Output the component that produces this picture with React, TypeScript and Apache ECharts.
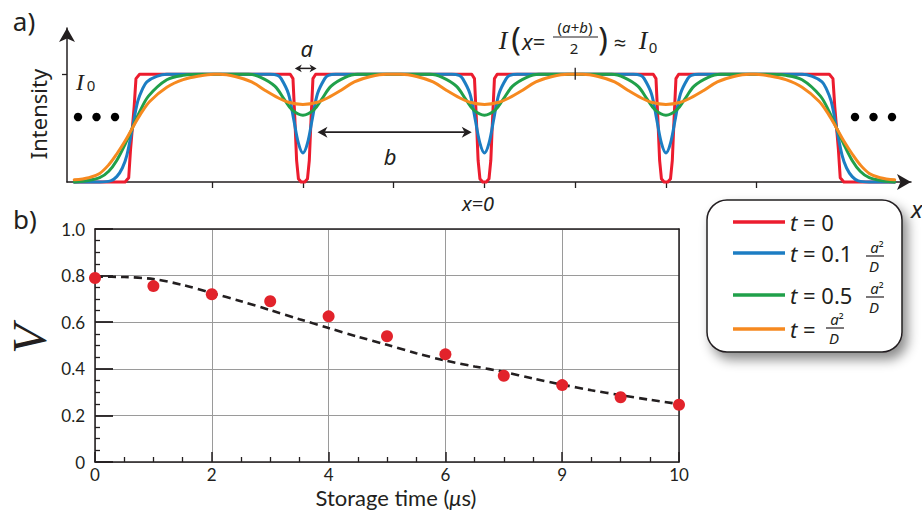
import React, { useEffect, useRef } from "react";
import * as echarts from "echarts";

// ---------- panel a : intensity profiles (x in units where a+b = 10) ----------
const profileT0: number[][] = [
  [-22.6, 0], [-19.8, 0], [-19.6, 0.04], [-19.5, 0.3], [-19.4, 0.5], [-19.3, 0.7], [-19.2, 0.96], [-19.0, 1],
  [-10.7, 1], [-10.55, 0.96], [-10.45, 0.6], [-10.35, 0.2], [-10.25, 0.03], [-10.1, 0], [-9.9, 0], [-9.75, 0.03], [-9.65, 0.2], [-9.55, 0.6], [-9.45, 0.96], [-9.3, 1],
  [-0.7, 1], [-0.55, 0.96], [-0.45, 0.6], [-0.35, 0.2], [-0.25, 0.03], [-0.1, 0], [0.1, 0], [0.25, 0.03], [0.35, 0.2], [0.45, 0.6], [0.55, 0.96], [0.7, 1],
  [9.3, 1], [9.45, 0.96], [9.55, 0.6], [9.65, 0.2], [9.75, 0.03], [9.9, 0], [10.1, 0], [10.25, 0.03], [10.35, 0.2], [10.45, 0.6], [10.55, 0.96], [10.7, 1],
  [19.0, 1], [19.2, 0.96], [19.3, 0.7], [19.4, 0.5], [19.5, 0.3], [19.6, 0.04], [19.8, 0], [22.6, 0],
];
const profileT01: number[][] = [
  [-22.6, 0], [-21.2, 0], [-20.6, 0.01], [-20.26, 0.05], [-19.95, 0.13], [-19.7, 0.25], [-19.4, 0.5], [-19.1, 0.75], [-18.85, 0.86], [-18.6, 0.93], [-18.06, 0.98], [-17.5, 1],
  [-11.8, 1], [-11.4, 0.99], [-11.2, 0.96], [-10.8, 0.82], [-10.53, 0.6], [-10.25, 0.36], [-10, 0.27], [-9.75, 0.36], [-9.47, 0.6], [-9.2, 0.82], [-8.8, 0.96], [-8.6, 0.99], [-8.2, 1],
  [-1.8, 1], [-1.4, 0.99], [-1.2, 0.96], [-0.8, 0.82], [-0.53, 0.6], [-0.25, 0.36], [0, 0.27], [0.25, 0.36], [0.53, 0.6], [0.8, 0.82], [1.2, 0.96], [1.4, 0.99], [1.8, 1],
  [8.2, 1], [8.6, 0.99], [8.8, 0.96], [9.2, 0.82], [9.47, 0.6], [9.75, 0.36], [10, 0.27], [10.25, 0.36], [10.53, 0.6], [10.8, 0.82], [11.2, 0.96], [11.4, 0.99], [11.8, 1],
  [17.5, 1], [18.06, 0.98], [18.6, 0.93], [18.85, 0.86], [19.1, 0.75], [19.4, 0.5], [19.7, 0.25], [19.95, 0.13], [20.26, 0.05], [20.6, 0.01], [21.2, 0], [22.6, 0],
];
const profileT05: number[][] = [
  [-22.6, 0], [-22, 0.01], [-21.2, 0.04], [-20.7, 0.1], [-20.26, 0.2], [-19.8, 0.35], [-19.4, 0.5], [-19, 0.65], [-18.5, 0.8], [-17.5, 0.95], [-16.6, 0.99], [-15.5, 1],
  [-13, 1], [-12.3, 0.97], [-11.55, 0.89], [-11, 0.76], [-10.6, 0.67], [-10, 0.62], [-9.4, 0.67], [-9, 0.76], [-8.45, 0.89], [-7.7, 0.97], [-7, 1],
  [-3, 1], [-2.3, 0.97], [-1.55, 0.89], [-1, 0.76], [-0.6, 0.67], [0, 0.62], [0.6, 0.67], [1, 0.76], [1.55, 0.89], [2.3, 0.97], [3, 1],
  [7, 1], [7.7, 0.97], [8.45, 0.89], [9, 0.76], [9.4, 0.67], [10, 0.62], [10.6, 0.67], [11, 0.76], [11.55, 0.89], [12.3, 0.97], [13, 1],
  [15.5, 1], [16.6, 0.99], [17.5, 0.95], [18.5, 0.8], [19, 0.65], [19.4, 0.5], [19.8, 0.35], [20.26, 0.2], [20.7, 0.1], [21.2, 0.04], [22, 0.01], [22.6, 0],
];
const profileT1: number[][] = [
  [-22.6, 0.02], [-21.8, 0.04], [-21.2, 0.08], [-20.7, 0.16], [-20.26, 0.26], [-19.8, 0.38], [-19.4, 0.5], [-18.95, 0.63], [-18.43, 0.75], [-17.5, 0.88], [-16.6, 0.95], [-15.7, 0.985], [-14.9, 1],
  [-14.6, 1], [-13.74, 0.98], [-12.83, 0.93], [-12.08, 0.85], [-11.35, 0.78], [-10.8, 0.74], [-10, 0.72], [-9.2, 0.74], [-8.65, 0.78], [-7.92, 0.85], [-7.17, 0.93], [-6.26, 0.98], [-5.4, 1],
  [-4.6, 1], [-3.74, 0.98], [-2.83, 0.93], [-2.08, 0.85], [-1.35, 0.78], [-0.8, 0.74], [0, 0.72], [0.8, 0.74], [1.35, 0.78], [2.08, 0.85], [2.83, 0.93], [3.74, 0.98], [4.6, 1],
  [5.4, 1], [6.26, 0.98], [7.17, 0.93], [7.92, 0.85], [8.65, 0.78], [9.2, 0.74], [10, 0.72], [10.8, 0.74], [11.35, 0.78], [12.08, 0.85], [12.83, 0.93], [13.74, 0.98], [14.6, 1],
  [14.9, 1], [15.7, 0.985], [16.6, 0.95], [17.5, 0.88], [18.43, 0.75], [18.95, 0.63], [19.4, 0.5], [19.8, 0.38], [20.26, 0.26], [20.7, 0.16], [21.2, 0.08], [21.8, 0.04], [22.6, 0.02],
];
const profileTickValues = [-15, -10, -5, 0, 5, 10, 15];
const intensityTickValues = [1];
const profileNames = ["t = 0", "t = 0.1 a²/D", "t = 0.5 a²/D", "t = a²/D"];
const profileColors = ["#ec1c2e", "#1c7dc3", "#20a04a", "#f6891f"];

// ---------- panel b : visibility vs storage time ----------
const storageTime = [0, 1, 2, 3, 4, 5, 6, 7, 8, 9, 10];
const visibility = [0.79, 0.755, 0.72, 0.69, 0.625, 0.54, 0.462, 0.37, 0.33, 0.278, 0.246];
const fitTime = [0, 0.5, 1, 1.5, 2, 2.5, 3, 3.5, 4, 4.5, 5, 5.5, 6, 6.5, 7, 7.5, 8, 8.5, 9, 9.5, 10];
const fitVisibility = [0.795, 0.794, 0.785, 0.76, 0.725, 0.69, 0.652, 0.613, 0.575, 0.538, 0.503, 0.467, 0.435, 0.41, 0.387, 0.358, 0.332, 0.308, 0.287, 0.267, 0.249];
const timeTickLabels = ["0", "2", "4", "6", "9", "10"];
const visibilityTickLabels = ["0", "0.2", "0.4", "0.6", "0.8", "1.0"];

const INK = "#231f20";
const SANS = "'Noto Sans', 'Open Sans', sans-serif";
const AXIS_FONT = "Lato, 'Noto Sans', sans-serif";
const SERIF = "'Liberation Serif', 'DejaVu Serif', serif";

function tok(size: number, italic = false, family = SANS) {
  return { fontSize: size, fontFamily: family, fontStyle: italic ? "italic" : "normal", fontWeight: "normal", fill: INK, color: INK };
}

function txt(t: string, x: number, y: number, size: number, o: any = {}) {
  const align = o.align || "center";
  const valign = o.valign || "middle";
  const style: any = {
    text: t, x: 0, y: 0, fontSize: size, fontFamily: o.family || SANS,
    fontStyle: o.italic ? "italic" : "normal", fontWeight: "normal",
    fill: o.color || INK, align, verticalAlign: valign, textAlign: align, textVerticalAlign: valign,
  };
  if (o.rich) style.rich = o.rich;
  const el = { type: "text", silent: true, z: 100, style };
  if (o.rotation) {
    return { type: "group", x, y, rotation: o.rotation, silent: true, children: [el] };
  }
  return { ...el, x, y };
}

function hline(x1: number, y1: number, x2: number, y2: number, w: number, color = INK) {
  return { type: "line", silent: true, z: 100, shape: { x1, y1, x2, y2 }, style: { stroke: color, lineWidth: w, lineCap: "butt" } };
}

function doubleArrow(x1: number, x2: number, y: number, head: number, w: number) {
  const hw = head * 0.55;
  return [
    hline(x1 + head * 0.7, y, x2 - head * 0.7, y, w),
    { type: "polygon", silent: true, z: 100, shape: { points: [[x1, y], [x1 + head, y - hw], [x1 + head * 0.72, y], [x1 + head, y + hw]] }, style: { fill: INK } },
    { type: "polygon", silent: true, z: 100, shape: { points: [[x2, y], [x2 - head, y - hw], [x2 - head * 0.72, y], [x2 - head, y + hw]] }, style: { fill: INK } },
  ];
}

// a^2 / D fraction
function aSqOverD(cx: number, barY: number) {
  return [
    txt("{i|a}²", cx + 2, barY - 9, 14, { rich: { i: tok(15, true) } }),
    hline(cx - 9, barY, cx + 9, barY, 1.2),
    txt("D", cx - 1, barY + 9.5, 15, { italic: true }),
  ];
}

function buildOption() {
  const axisInk = { color: INK, width: 1.5 };
  const profileSeries = [profileT0, profileT01, profileT05, profileT1].map((d, i) => ({
    type: "line", name: profileNames[i], xAxisIndex: 0, yAxisIndex: 0,
    data: d, showSymbol: false, smooth: i === 0 ? false : 0.35, clip: false,
    lineStyle: { color: profileColors[i], width: 3, join: "round", cap: "round" },
    itemStyle: { color: profileColors[i] }, z: 3 + i,
  }));
  return {
    animation: false,
    backgroundColor: "#ffffff",
    grid: [
      { left: 67, top: 28, width: 844, height: 154 },
      { left: 95, top: 229, width: 584, height: 233 },
    ],
    xAxis: [
      {
        gridIndex: 0, type: "value", min: -23, max: 23.5,
        axisLine: { show: true, onZero: false, symbol: ["none", "arrow"], symbolSize: [12, 14], lineStyle: axisInk },
        axisTick: { show: true, customValues: profileTickValues, length: 6, lineStyle: { color: INK, width: 1.3 } },
        axisLabel: { show: false }, splitLine: { show: false },
      },
      {
        gridIndex: 1, type: "value", min: 0, max: 10, interval: 2,
        axisLine: { show: true, onZero: false, lineStyle: axisInk },
        axisTick: { show: true, inside: true, length: 10, lineStyle: axisInk },
        minorTick: { show: true, splitNumber: 4, length: 5, lineStyle: { color: INK, width: 1.3 } },
        axisLabel: { fontSize: 17, lineHeight: 17, color: INK, fontFamily: AXIS_FONT, margin: 4, formatter: (v: number) => timeTickLabels[Math.round(v / 2)] },
        splitLine: { show: true, lineStyle: { color: "#9a9a9a", width: 1 } },
        name: "Storage time ({m|μ}s)", nameLocation: "middle", nameGap: 24,
        nameTextStyle: { fontSize: 22, lineHeight: 22, fontFamily: AXIS_FONT, color: INK, padding: [0, 0, 0, 18], rich: { m: { ...tok(22, true, AXIS_FONT), lineHeight: 22 } } },
      },
      {
        gridIndex: 1, type: "value", min: 0, max: 10, position: "top",
        axisLine: { show: true, onZero: false, lineStyle: axisInk },
        axisTick: { show: false }, axisLabel: { show: false }, splitLine: { show: false },
      },
    ],
    yAxis: [
      {
        gridIndex: 0, type: "value", min: 0, max: 1.43,
        axisLine: { show: true, onZero: false, symbol: ["none", "arrow"], symbolSize: [12, 14], lineStyle: axisInk },
        axisTick: { show: true, customValues: intensityTickValues, length: 5, lineStyle: { color: INK, width: 1.3 } },
        axisLabel: { show: false }, splitLine: { show: false },
      },
      {
        gridIndex: 1, type: "value", min: 0, max: 1, interval: 0.2,
        axisLine: { show: true, onZero: false, lineStyle: axisInk },
        axisTick: { show: true, inside: true, length: 18, lineStyle: { color: INK, width: 1.8 } },
        minorTick: { show: true, splitNumber: 4, length: 5, lineStyle: { color: INK, width: 1.3 } },
        axisLabel: { fontSize: 17, color: INK, fontFamily: AXIS_FONT, margin: 10, formatter: (v: number) => visibilityTickLabels[Math.round(v * 5)] },
        splitLine: { show: true, lineStyle: { color: "#9a9a9a", width: 1 } },
      },
      {
        gridIndex: 1, type: "value", min: 0, max: 1, position: "right",
        axisLine: { show: true, onZero: false, lineStyle: axisInk },
        axisTick: { show: false }, axisLabel: { show: false }, splitLine: { show: false },
      },
    ],
    series: [
      ...profileSeries,
      {
        type: "line", name: "fit", xAxisIndex: 1, yAxisIndex: 1,
        data: fitTime.map((t, i) => [t, fitVisibility[i]]), showSymbol: false, smooth: 0.3,
        lineStyle: { color: INK, width: 2.6, type: [8, 5] }, z: 5,
      },
      {
        type: "scatter", name: "data", xAxisIndex: 1, yAxisIndex: 1,
        data: storageTime.map((t, i) => [t, visibility[i]]), symbolSize: 12,
        itemStyle: { color: "#e2232b", opacity: 1 }, z: 6,
      },
    ],
  };
}

function buildGraphics(P: (x: number, y: number) => number[]) {
  const g: any[] = [];
  // panel labels
  g.push(txt("a)", 24, 21, 26));
  g.push(txt("b)", 25, 219, 26));
  g.push(txt("Intensity", 38, 114, 22, { rotation: Math.PI / 2 }));
  // I0 label
  g.push(txt("I", 80, 82, 24, { italic: true, family: SERIF }));
  g.push(txt("0", 91, 85, 15));
  // ellipsis dots
  [78, 96.5, 115, 855, 873.5, 892].forEach((x) => g.push({ type: "circle", silent: true, z: 100, shape: { cx: x, cy: 117, r: 4.2 }, style: { fill: "#000" } }));
  // a arrow
  const a1 = P(-10.45, 1.055), a2 = P(-9.25, 1.055);
  g.push(...doubleArrow(a1[0], a2[0], a1[1], 7, 1.5));
  g.push(txt("a", (a1[0] + a2[0]) / 2 + 1, 48, 22, { italic: true }));
  // b arrow
  const b1 = P(-9.2, 0.463), b2 = P(-0.7, 0.463);
  g.push(...doubleArrow(b1[0], b2[0], b1[1], 10, 1.6));
  g.push(txt("b", 390, 156, 22, { italic: true }));
  // plateau-centre tick
  const t1 = P(5, 1.06), t2 = P(5, 0.95);
  g.push(hline(t1[0], t1[1], t2[0], t2[1], 1.3));
  // I(x=(a+b)/2) ≈ I0
  g.push(txt("I", 503, 40, 26, { italic: true, family: SERIF }));
  g.push(txt("(", 516, 38, 32));
  g.push(txt("{i|x}=", 522, 41, 22, { align: "left", rich: { i: tok(22, true) } }));
  g.push(txt("({i|a}+{i|b})", 575, 27, 15, { rich: { i: tok(15, true) } }));
  g.push(hline(553, 37, 598, 37, 1.2));
  g.push(txt("2", 574, 48, 15));
  g.push(txt(")", 603, 38, 32));
  g.push(txt("≈", 620, 42, 22));
  g.push(txt("I", 643, 40, 26, { italic: true, family: SERIF }));
  g.push(txt("0", 653, 47, 15));
  // x=0 and x axis label
  g.push(txt("x=0", 478, 203, 20, { italic: true }));
  g.push(txt("x", 911, 208, 24, { italic: true, align: "left" }));
  // V axis title (rotated like a y-axis title)
  g.push(txt("V", 29, 339, 48, { italic: true, family: SERIF, rotation: Math.PI / 2 }));
  // legend box
  g.push({
    type: "rect", silent: true, z: 90,
    shape: { x: 707, y: 200, width: 195, height: 152, r: 20 },
    style: { fill: "#fff", stroke: INK, lineWidth: 1.5, shadowBlur: 12, shadowOffsetX: 5, shadowOffsetY: 7, shadowColor: "rgba(0,0,0,0.45)" },
  });
  const ly = [222, 253, 295, 329];
  ly.forEach((y, i) => g.push(hline(733, y, 785, y, 3.5, profileColors[i])));
  const tr = { i: tok(22, true) };
  g.push(txt("{i|t} = 0", 790, ly[0], 22, { align: "left", rich: tr }));
  g.push(txt("{i|t} = 0.1", 790, ly[1], 22, { align: "left", rich: tr }));
  g.push(...aSqOverD(875, 256));
  g.push(txt("{i|t} = 0.5", 790, ly[2], 22, { align: "left", rich: tr }));
  g.push(...aSqOverD(875, 297));
  g.push(txt("{i|t} =", 790, ly[3], 22, { align: "left", rich: tr }));
  g.push(...aSqOverD(835, 328));
  return g;
}

export default function App() {
  const ref = useRef<HTMLDivElement>(null);
  useEffect(() => {
    const chart = echarts.init(ref.current as HTMLDivElement, null, { renderer: "svg" });
    chart.setOption(buildOption() as any);
    const P = (x: number, y: number) => chart.convertToPixel({ gridIndex: 0 } as any, [x, y]) as number[];
    chart.setOption({ graphic: { elements: buildGraphics(P) } } as any);
    return () => chart.dispose();
  }, []);
  return <div ref={ref} style={{ position: "fixed", left: 0, top: 0, width: 922, height: 512, background: "#fff" }} />;
}
